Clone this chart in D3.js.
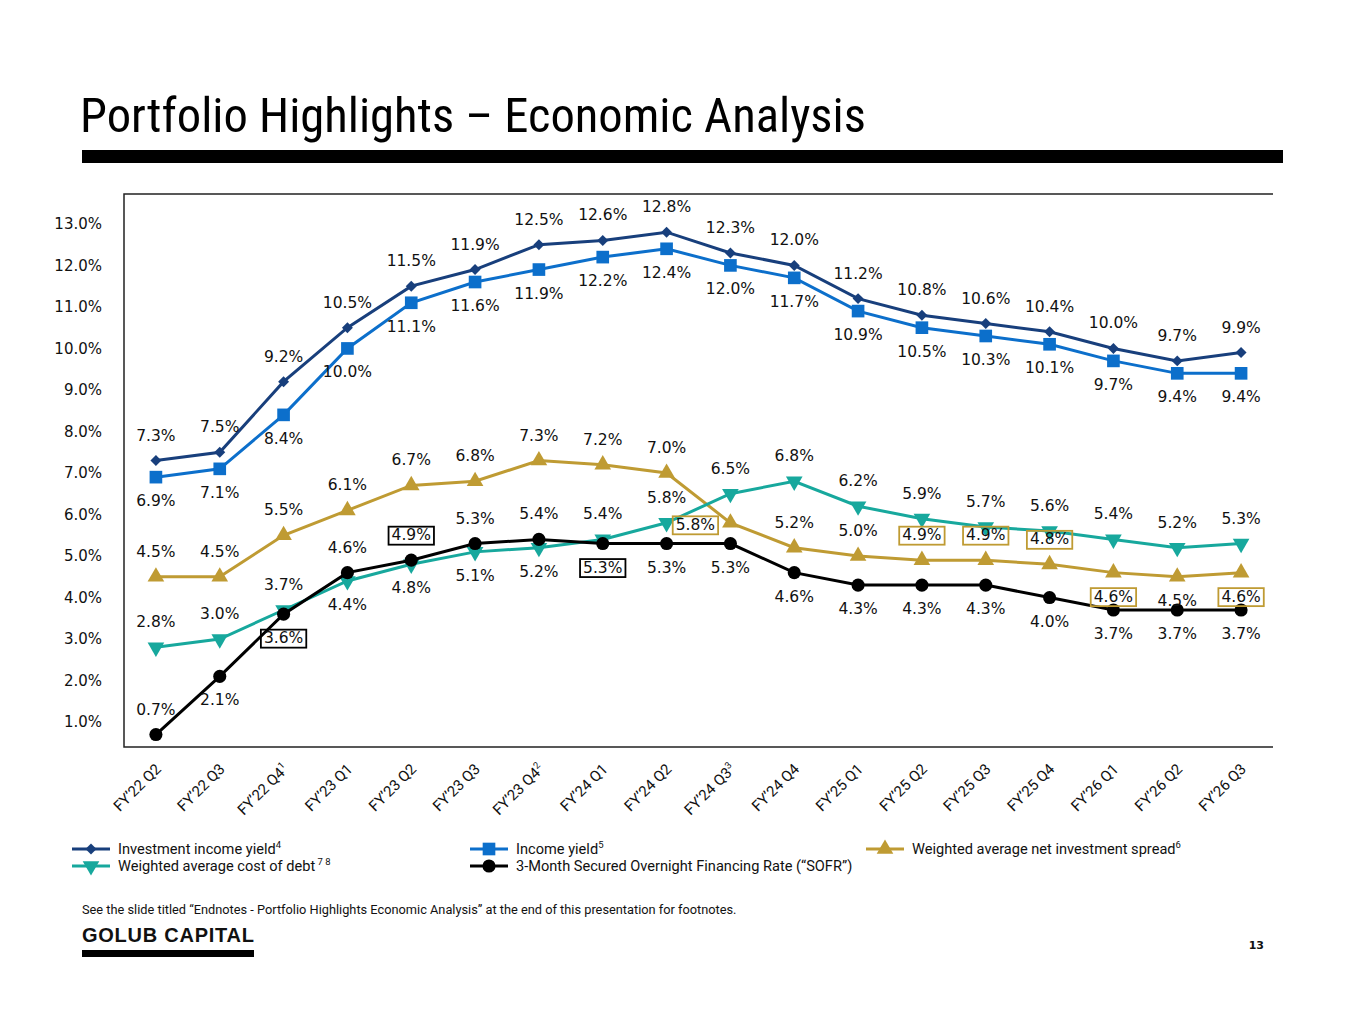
<!DOCTYPE html>
<html>
<head>
<meta charset="utf-8">
<script src="https://cdn.jsdelivr.net/npm/d3@7/dist/d3.min.js"></script>
<style>
  html, body { margin: 0; padding: 0; background: #fff; }
  svg { display: block; }
</style>
</head>
<body>
<svg id="chart" width="1365" height="1024"></svg>
<script>
// ---------------- DATA ----------------
const categories = ["FY’22 Q2","FY’22 Q3","FY’22 Q4","FY’23 Q1","FY’23 Q2","FY’23 Q3","FY’23 Q4","FY’24 Q1","FY’24 Q2","FY’24 Q3","FY’24 Q4","FY’25 Q1","FY’25 Q2","FY’25 Q3","FY’25 Q4","FY’26 Q1","FY’26 Q2","FY’26 Q3"];
const categorySup = ["","","1","","","","2","","","3","","","","","","","",""];

const investmentIncomeYield = [7.3,7.5,9.2,10.5,11.5,11.9,12.5,12.6,12.8,12.3,12.0,11.2,10.8,10.6,10.4,10.0,9.7,9.9];
const incomeYield           = [6.9,7.1,8.4,10.0,11.1,11.6,11.9,12.2,12.4,12.0,11.7,10.9,10.5,10.3,10.1,9.7,9.4,9.4];
const netInvestmentSpread   = [4.5,4.5,5.5,6.1,6.7,6.8,7.3,7.2,7.0,5.8,5.2,5.0,4.9,4.9,4.8,4.6,4.5,4.6];
const costOfDebt            = [2.8,3.0,3.7,4.4,4.8,5.1,5.2,5.4,5.8,6.5,6.8,6.2,5.9,5.7,5.6,5.4,5.2,5.3];
const sofr                  = [0.7,2.1,3.6,4.6,4.9,5.3,5.4,5.3,5.3,5.3,4.6,4.3,4.3,4.3,4.0,3.7,3.7,3.7];

const yTicks = [1,2,3,4,5,6,7,8,9,10,11,12,13];

// label placement: a = above, b = below, l = left
const posInvest = "aaaaaaaaaaaaaaaaaa".split("");
const posIncome = "bbbbbbbbbbbbbbbbbb".split("");
const posSpread = "aaaaaaaaalaaaaabbb".split("");
const posDebt   = "aaabbbbaaaaaaaaaaa".split("");
const posSofr   = "abbaaaabbbbbbbbbbb".split("");
const boxedSpread = [9,12,13,14,15,17];
const boxedSofr   = [2,4,7];

// ---------------- LAYOUT ----------------
const svg = d3.select("#chart");
const plot = {left: 124, right: 1273, top: 194, bottom: 747};
const LABEL_FONT = "'DejaVu Sans', Verdana, sans-serif";
const COND_FONT = "'Liberation Sans Narrow', 'Roboto Condensed', 'DejaVu Sans Condensed', 'Liberation Sans', Arial, sans-serif";
const TEXT_FONT = "Roboto, 'Liberation Sans', Arial, sans-serif";

const x = d3.scalePoint().domain(categories).range([plot.left, plot.right]).padding(0.5);
const y = d3.scaleLinear().domain([0.4, 13.72]).range([plot.bottom, plot.top]);

function fitWidth(sel, size, target) {
  const w = sel.node().getComputedTextLength();
  sel.attr("font-size", size * target / w);
}

// Title
const title = svg.append("text")
  .attr("x", 80).attr("y", 132)
  .attr("font-family", COND_FONT)
  .attr("font-size", 46)
  .attr("fill", "#000")
  .text("Portfolio Highlights – Economic Analysis");
fitWidth(title, 46, 786);

svg.append("rect").attr("x", 82).attr("y", 150).attr("width", 1201).attr("height", 13).attr("fill", "#000");

// Frame (left, top, bottom)
svg.append("path")
  .attr("d", `M${plot.right},${plot.top}H${plot.left}V${plot.bottom}H${plot.right}`)
  .attr("stroke", "#222").attr("stroke-width", 1.5).attr("fill", "none");

// Y axis
const yAxis = d3.axisLeft(y).tickValues(yTicks).tickSize(0).tickPadding(22)
  .tickFormat(d => d3.format(".1f")(d) + "%");
const yg = svg.append("g").attr("transform", `translate(${plot.left},0)`).call(yAxis);
yg.select(".domain").remove();
yg.selectAll("text").attr("font-family", LABEL_FONT).attr("font-size", 15).attr("fill", "#111");

// X axis labels
const xg = svg.append("g");
categories.forEach((c, i) => {
  const t = xg.append("text")
    .attr("transform", `translate(${x(c) + 6},${plot.bottom + 23}) rotate(-45)`)
    .attr("text-anchor", "end")
    .attr("font-family", TEXT_FONT)
    .attr("font-size", 15)
    .attr("fill", "#111");
  t.append("tspan").text(c);
  if (categorySup[i]) {
    t.append("tspan").attr("font-size", 9.5).attr("dy", -6).text(categorySup[i]);
  }
});

// ---------------- SERIES ----------------
const series = [
  {name: "Investment income yield", sup: "4", values: investmentIncomeYield, color: "#183F7C", marker: "diamond", pos: posInvest, boxed: [], boxColor: null},
  {name: "Income yield", sup: "5", values: incomeYield, color: "#0C6FCB", marker: "square", pos: posIncome, boxed: [], boxColor: null},
  {name: "Weighted average net investment spread", sup: "6", values: netInvestmentSpread, color: "#BF9B33", marker: "triangle", pos: posSpread, boxed: boxedSpread, boxColor: "#BF9B33"},
  {name: "Weighted average cost of debt", sup: " 7 8", values: costOfDebt, color: "#17A89D", marker: "triangleDown", pos: posDebt, boxed: [], boxColor: null},
  {name: "3-Month Secured Overnight Financing Rate (“SOFR”)", sup: "", values: sofr, color: "#000000", marker: "circle", pos: posSofr, boxed: boxedSofr, boxColor: "#000"}
];

function markerPath(type) {
  switch (type) {
    case "diamond": return d3.symbol().type(d3.symbolSquare).size(60)();
    case "square": return d3.symbol().type(d3.symbolSquare).size(160)();
    case "triangle": return d3.symbol().type(d3.symbolTriangle).size(120)();
    case "triangleDown": return d3.symbol().type(d3.symbolTriangle).size(120)();
    case "circle": return d3.symbol().type(d3.symbolCircle).size(135)();
  }
}
function markerTransform(type, px, py) {
  if (type === "diamond") return `translate(${px},${py}) rotate(45)`;
  if (type === "triangleDown") return `translate(${px},${py}) rotate(180)`;
  return `translate(${px},${py})`;
}

const line = d3.line().x((d, i) => x(categories[i])).y(d => y(d));

const linesG = svg.append("g");
const labelsG = svg.append("g");
const drawOrder = [2, 3, 4, 1, 0];
drawOrder.forEach(si => {
  const s = series[si];
  linesG.append("path")
    .datum(s.values)
    .attr("d", line)
    .attr("fill", "none")
    .attr("stroke", s.color)
    .attr("stroke-width", 3);
  linesG.selectAll(null).data(s.values).enter().append("path")
    .attr("d", markerPath(s.marker))
    .attr("transform", (d, i) => markerTransform(s.marker, x(categories[i]), y(d)))
    .attr("fill", s.color);
});

series.forEach(s => {
  s.values.forEach((v, i) => {
    const px = x(categories[i]), py = y(v);
    let lx = px, ly = py;
    const p = s.pos[i];
    if (p === "a") ly = py - 25;
    else if (p === "b") ly = py + 24;
    else if (p === "l") { lx = px - 35; ly = py + 2; }
    const g = labelsG.append("g");
    const t = g.append("text")
      .attr("x", lx).attr("y", ly)
      .attr("text-anchor", "middle")
      .attr("dominant-baseline", "central")
      .attr("font-family", LABEL_FONT)
      .attr("font-size", 15.5)
      .attr("fill", "#111")
      .text(d3.format(".1f")(v) + "%");
    if (s.boxed.includes(i)) {
      const bb = t.node().getBBox();
      g.insert("rect", "text")
        .attr("x", bb.x - 3).attr("y", bb.y + 0.5)
        .attr("width", bb.width + 6).attr("height", bb.height)
        .attr("fill", "none")
        .attr("stroke", s.boxColor)
        .attr("stroke-width", 1.8);
    }
  });
});

// ---------------- LEGEND ----------------
const legendItems = [
  {s: 0, x: 72, y: 849}, {s: 1, x: 470, y: 849}, {s: 2, x: 866, y: 849},
  {s: 3, x: 72, y: 866}, {s: 4, x: 470, y: 866}
];
const lg = svg.append("g");
legendItems.forEach(it => {
  const s = series[it.s];
  lg.append("line").attr("x1", it.x).attr("x2", it.x + 38).attr("y1", it.y).attr("y2", it.y)
    .attr("stroke", s.color).attr("stroke-width", 3);
  lg.append("path").attr("d", markerPath(s.marker))
    .attr("transform", markerTransform(s.marker, it.x + 19, it.y))
    .attr("fill", s.color);
  const t = lg.append("text").attr("x", it.x + 46).attr("y", it.y)
    .attr("dominant-baseline", "central")
    .attr("font-family", TEXT_FONT).attr("font-size", 14.6).attr("fill", "#111");
  t.append("tspan").text(s.name);
  if (s.sup) t.append("tspan").attr("font-size", 9.5).attr("dy", -5).text(s.sup);
});

// ---------------- FOOTER ----------------
const foot = svg.append("text").attr("x", 82).attr("y", 914)
  .attr("font-family", TEXT_FONT).attr("font-size", 12.5).attr("fill", "#111")
  .text("See the slide titled “Endnotes - Portfolio Highlights Economic Analysis” at the end of this presentation for footnotes.");
fitWidth(foot, 12.5, 655);

svg.append("text").attr("x", 82).attr("y", 942)
  .attr("font-family", "'Liberation Sans', Arial, sans-serif").attr("font-weight", "bold")
  .attr("font-size", 20).attr("fill", "#111")
  .attr("textLength", 172).attr("lengthAdjust", "spacing")
  .text("GOLUB CAPITAL");
svg.append("rect").attr("x", 82).attr("y", 950).attr("width", 172).attr("height", 7).attr("fill", "#000");

svg.append("text").attr("x", 1264).attr("y", 949)
  .attr("text-anchor", "end")
  .attr("font-family", "'DejaVu Sans', sans-serif").attr("font-weight", "bold")
  .attr("font-size", 11).attr("fill", "#111")
  .text("13");
</script>
</body>
</html>
